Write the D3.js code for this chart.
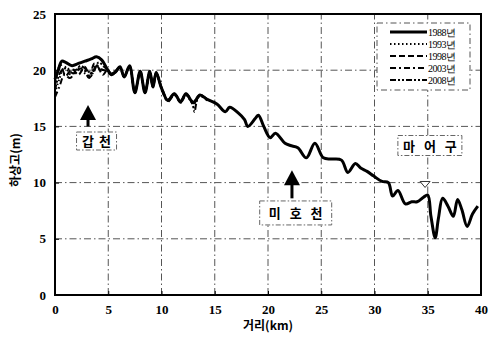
<!DOCTYPE html>
<html>
<head>
<meta charset="utf-8">
<script src="https://cdn.jsdelivr.net/npm/d3@7/dist/d3.min.js"></script>
<style>
  html, body { margin: 0; padding: 0; background: #fff; }
  svg { display: block; }
</style>
</head>
<body>
<svg id="chart" width="491" height="347"></svg>
<script>
// Riverbed elevation profile (하상고) along the channel distance (거리)

const xTicks = [0, 5, 10, 15, 20, 25, 30, 35, 40];
const yTicks = [0, 5, 10, 15, 20, 25];

const years = ["1988년", "1993년", "1998년", "2003년", "2008년"];

// 1988 survey, full length
const km1988 = [0, 0.3, 0.65, 1.0, 1.6, 2.2, 2.8, 3.4, 3.9, 4.4, 4.9, 5.3, 5.7, 6.1, 6.5, 7.0, 7.5, 8.0, 8.45, 8.9,
  9.2, 9.5, 10.0, 10.6, 11.2, 11.8, 12.3, 13.0, 13.6, 14.3, 15.2, 16.0, 16.4, 17.2, 17.8, 18.1, 18.8, 19.1, 19.6, 20.2,
  20.7, 21.6, 22.1, 22.8, 23.6, 24.4, 25.2, 26.0, 26.9, 27.5, 28.2, 28.7, 29.3, 29.9, 30.7, 31.3, 31.7, 32.2, 32.9, 33.5,
  34.0, 34.6, 35.0, 35.3, 35.7, 36.0, 36.4, 36.9, 37.4, 37.8, 38.2, 38.7, 39.2, 39.7];
const m1988 = [19.2, 20.0, 20.8, 20.7, 20.4, 20.6, 20.8, 21.0, 21.2, 20.9, 20.1, 19.6, 19.9, 20.3, 19.4, 20.4, 18.0, 19.9, 18.0, 19.9,
  18.5, 19.8, 18.4, 17.3, 17.9, 17.2, 17.9, 17.1, 17.8, 17.4, 17.0, 16.3, 16.7, 16.2, 15.6, 15.0, 15.7, 16.0, 15.0, 14.0,
  14.4, 13.5, 13.3, 13.1, 12.2, 13.5, 12.2, 12.1, 12.0, 10.9, 11.7, 11.3, 11.0, 10.6, 10.1, 10.0, 8.8, 9.3, 8.1, 8.3,
  8.3, 8.7, 8.9, 7.0, 5.1, 6.8, 8.6, 7.9, 7.0, 8.5, 7.6, 6.1, 7.2, 7.9];

// Later surveys, upstream reach
const km1993 = [0, 0.4, 0.9, 1.5, 2.1, 2.7, 3.2, 3.8, 4.3, 4.8, 5.3, 5.7, 6.1, 6.5, 7.0, 7.5, 8.0, 8.45, 8.9, 9.2, 9.5, 10.0, 10.6, 11.2, 11.8, 12.3, 13.0, 13.6, 14.3];
const m1993 = [18.0, 19.2, 20.3, 19.6, 20.2, 19.8, 19.5, 20.5, 20.0, 20.2, 19.6, 19.9, 20.2, 19.4, 20.3, 18.1, 19.8, 18.1, 19.8, 18.6, 19.7, 18.4, 17.3, 17.8, 17.2, 17.8, 17.0, 17.7, 17.4];
const km1998 = [0, 0.5, 1.0, 1.6, 2.2, 2.8, 3.3, 3.9, 4.5, 4.9, 5.3, 5.7, 6.1, 6.5, 7.0, 7.5, 8.0, 8.45, 8.9, 9.2, 9.5, 10.0, 10.6, 11.2, 11.8, 12.3, 13.0, 13.6, 14.3];
const m1998 = [18.6, 20.5, 19.5, 20.1, 19.6, 20.3, 19.4, 20.4, 19.6, 20.0, 19.7, 19.9, 20.2, 19.5, 20.3, 18.1, 19.9, 18.1, 19.8, 18.5, 19.8, 18.5, 17.4, 17.9, 17.3, 17.9, 17.2, 17.8, 17.4];
const km2003 = [0, 0.4, 0.9, 1.4, 2.0, 2.6, 3.2, 3.7, 4.3, 4.9, 5.3, 5.7, 6.1, 6.5, 7.0, 7.5, 8.0, 8.45, 8.9, 9.2, 9.5, 10.0, 10.6, 11.2, 11.8, 12.3, 13.0, 13.6, 14.3];
const m2003 = [17.6, 18.5, 19.6, 19.3, 19.9, 20.2, 19.3, 20.6, 20.1, 19.9, 19.6, 19.8, 20.2, 19.4, 20.3, 18.0, 19.8, 18.0, 19.8, 18.5, 19.7, 18.4, 17.2, 17.8, 17.1, 17.8, 17.1, 17.7, 17.3];
const km2008 = [0, 0.5, 1.1, 1.7, 2.4, 3.0, 3.5, 4.1, 4.6, 5.0, 5.3, 5.7, 6.1, 6.5, 7.0, 7.5, 8.0, 8.45, 8.9, 9.2, 9.5, 10.0, 10.6, 11.2, 11.8, 12.3, 12.9, 13.1, 13.3, 13.6, 14.3];
const m2008 = [18.2, 19.8, 20.2, 19.7, 20.4, 20.0, 19.7, 20.7, 20.3, 20.0, 19.6, 19.9, 20.3, 19.4, 20.4, 18.0, 19.9, 18.0, 19.9, 18.5, 19.8, 18.4, 17.3, 17.9, 17.2, 17.9, 17.0, 16.3, 17.2, 17.8, 17.4];

const seriesKm = [km1988, km1993, km1998, km2003, km2008];
const seriesM = [m1988, m1993, m1998, m2003, m2008];
const dashes = [null, "1.5,2.5", "6,3", "6,3,2,3", "6,2,2,2,2,2"];
const widths = [3, 2, 2, 2, 2];

const svg = d3.select("#chart");
const x = d3.scaleLinear().domain([0, 40]).range([55, 481]);
const y = d3.scaleLinear().domain([0, 25]).range([295, 14]);

const numFont = "'Liberation Serif', 'DejaVu Serif', serif";
const krFont = "'Noto Sans CJK KR', 'Noto Sans', sans-serif";

// grid
const grid = svg.append("g").attr("stroke", "#555").attr("stroke-width", 1)
  .attr("stroke-dasharray", "7,3,1.5,3").attr("fill", "none");
xTicks.slice(1, -1).forEach(t => {
  grid.append("line").attr("x1", x(t)).attr("x2", x(t)).attr("y1", y(0)).attr("y2", y(25));
});
yTicks.slice(1, -1).forEach(t => {
  grid.append("line").attr("x1", x(0)).attr("x2", x(40)).attr("y1", y(t)).attr("y2", y(t));
});

// axes with inward ticks
const xAxis = svg.append("g").attr("transform", `translate(0,${y(0)})`)
  .call(d3.axisBottom(x).tickValues(xTicks).tickSizeInner(-4).tickSizeOuter(0).tickPadding(10));
const yAxis = svg.append("g").attr("transform", `translate(${x(0)},0)`)
  .call(d3.axisLeft(y).tickValues(yTicks).tickSizeInner(-4).tickSizeOuter(0).tickPadding(9));
[xAxis, yAxis].forEach(a => {
  a.select(".domain").remove();
  a.selectAll(".tick line").attr("stroke", "#000").attr("stroke-width", 1);
  a.selectAll(".tick text").attr("font-family", numFont).attr("font-weight", "bold")
    .attr("font-size", 13).attr("fill", "#000");
});

// plot frame
svg.append("rect").attr("x", x(0)).attr("y", y(25)).attr("width", x(40) - x(0)).attr("height", y(0) - y(25))
  .attr("fill", "none").attr("stroke", "#000").attr("stroke-width", 2);

// profiles
const line = d3.line().curve(d3.curveCatmullRom.alpha(0.5));
seriesKm.forEach((kms, i) => {
  const pts = kms.map((k, j) => [x(k), y(seriesM[i][j])]);
  svg.append("path").attr("d", line(pts)).attr("fill", "none").attr("stroke", "#000")
    .attr("stroke-width", widths[i]).attr("stroke-linejoin", "round")
    .attr("stroke-dasharray", dashes[i]);
});

// legend
const lg = svg.append("g");
lg.append("rect").attr("x", 377).attr("y", 23).attr("width", 93).attr("height", 67)
  .attr("fill", "#fff").attr("stroke", "#555").attr("stroke-width", 1).attr("stroke-dasharray", "6,3,1.5,3");
years.forEach((yr, i) => {
  const ly = 32 + i * 12;
  lg.append("line").attr("x1", 390).attr("x2", 427).attr("y1", ly).attr("y2", ly)
    .attr("stroke", "#000").attr("stroke-width", widths[i]).attr("stroke-dasharray", dashes[i]);
  lg.append("text").attr("x", 428).attr("y", ly + 3.5).text(yr)
    .attr("font-family", numFont).attr("font-size", 10).attr("fill", "#000").attr("letter-spacing", -0.5);
});

// tributary annotations
function upArrow(km, mTop, mBottom) {
  const cx = x(km), top = y(mTop), bottom = y(mBottom);
  svg.append("path")
    .attr("d", `M${cx},${top} L${cx - 8},${top + 15} L${cx + 8},${top + 15} Z`).attr("fill", "#000");
  svg.append("rect").attr("x", cx - 1.5).attr("y", top + 14).attr("width", 3).attr("height", bottom - top - 14).attr("fill", "#000");
}
function boxLabel(km, m, text, w, h, spacing) {
  const cx = x(km), cy = y(m);
  svg.append("rect").attr("x", cx - w / 2).attr("y", cy - h / 2).attr("width", w).attr("height", h)
    .attr("fill", "#fff").attr("stroke", "#666").attr("stroke-width", 1).attr("stroke-dasharray", "5,2,1.5,2");
  svg.append("text").attr("x", cx + spacing / 2).attr("y", cy + 5).attr("text-anchor", "middle").text(text)
    .attr("letter-spacing", spacing)
    .attr("font-family", krFont).attr("font-weight", "bold").attr("font-size", 13).attr("fill", "#000");
}
upArrow(3.1, 16.9, 15.0);
boxLabel(3.9, 13.7, "갑 천", 40, 18, 1);
upArrow(22.25, 11.1, 8.6);
boxLabel(22.6, 7.3, "미 호 천", 72, 24, 3);
boxLabel(35.2, 13.3, "마 어 구", 64, 20, 3);

// confluence marker
const tx = x(34.75), ty = y(10.1);
svg.append("path").attr("d", `M${tx - 5},${ty} L${tx + 5},${ty} L${tx},${ty + 6} Z`)
  .attr("fill", "#fff").attr("stroke", "#333").attr("stroke-width", 1);

// axis titles
svg.append("text").attr("x", x(20)).attr("y", 330).attr("text-anchor", "middle").text("거리(km)")
  .attr("font-family", krFont).attr("font-weight", "bold").attr("font-size", 12).attr("fill", "#000");
svg.append("text").attr("transform", `translate(20,${y(12)}) rotate(-90)`).attr("text-anchor", "middle")
  .text("하상고(m)").attr("font-family", krFont).attr("font-weight", "bold").attr("font-size", 12).attr("fill", "#000");
</script>
</body>
</html>
